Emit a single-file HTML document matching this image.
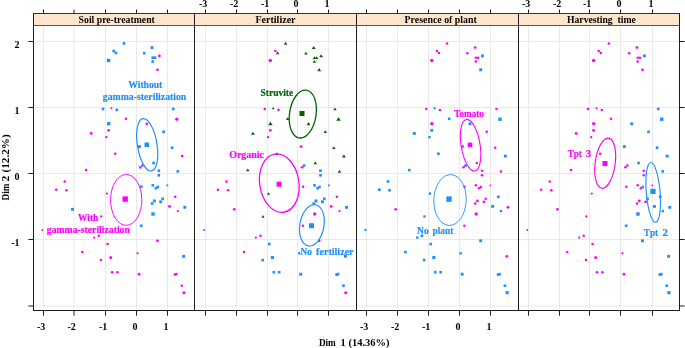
<!DOCTYPE html>
<html><head><meta charset="utf-8"><title>PCA</title><style>html,body{margin:0;padding:0;background:#fff}</style></head><body>
<svg width="685" height="348" viewBox="0 0 685 348" style="display:block;will-change:transform" font-family="'Liberation Serif','Times New Roman',serif" font-weight="bold" font-size="9.8">
<rect width="685" height="348" fill="#fff"/>
<g stroke="#e9e9e9" stroke-width="1" fill="none">
<line x1="43.5" y1="25.5" x2="43.5" y2="310.5"/>
<line x1="74.0" y1="25.5" x2="74.0" y2="310.5"/>
<line x1="105.5" y1="25.5" x2="105.5" y2="310.5"/>
<line x1="136.5" y1="25.5" x2="136.5" y2="310.5"/>
<line x1="167.5" y1="25.5" x2="167.5" y2="310.5"/>
<line x1="205.5" y1="25.5" x2="205.5" y2="310.5"/>
<line x1="236.5" y1="25.5" x2="236.5" y2="310.5"/>
<line x1="267.5" y1="25.5" x2="267.5" y2="310.5"/>
<line x1="297.5" y1="25.5" x2="297.5" y2="310.5"/>
<line x1="328.5" y1="25.5" x2="328.5" y2="310.5"/>
<line x1="366.5" y1="25.5" x2="366.5" y2="310.5"/>
<line x1="397.5" y1="25.5" x2="397.5" y2="310.5"/>
<line x1="428.5" y1="25.5" x2="428.5" y2="310.5"/>
<line x1="459.5" y1="25.5" x2="459.5" y2="310.5"/>
<line x1="490.5" y1="25.5" x2="490.5" y2="310.5"/>
<line x1="528.5" y1="25.5" x2="528.5" y2="310.5"/>
<line x1="559.5" y1="25.5" x2="559.5" y2="310.5"/>
<line x1="589.5" y1="25.5" x2="589.5" y2="310.5"/>
<line x1="620.5" y1="25.5" x2="620.5" y2="310.5"/>
<line x1="652.5" y1="25.5" x2="652.5" y2="310.5"/>
<line x1="33.5" y1="41.5" x2="679.5" y2="41.5"/>
<line x1="33.5" y1="107.5" x2="679.5" y2="107.5"/>
<line x1="33.5" y1="173.5" x2="679.5" y2="173.5"/>
<line x1="33.5" y1="239.5" x2="679.5" y2="239.5"/>
<line x1="33.5" y1="306.0" x2="679.5" y2="306.0"/>
</g>
<g>
<rect x="122.59" y="42.09" width="2.62" height="2.62" fill="#1E90FF"/>
<rect x="112.39" y="49.69" width="2.62" height="2.62" fill="#1E90FF"/>
<rect x="114.59" y="51.69" width="2.62" height="2.62" fill="#1E90FF"/>
<rect x="106.89" y="58.79" width="3.41" height="3.41" fill="#1E90FF"/>
<rect x="150.56" y="46.16" width="2.89" height="2.89" fill="#1E90FF"/>
<rect x="142.89" y="51.89" width="2.62" height="2.62" fill="#1E90FF"/>
<rect x="151.39" y="56.39" width="2.62" height="2.62" fill="#1E90FF"/>
<rect x="153.69" y="56.39" width="2.62" height="2.62" fill="#1E90FF"/>
<rect x="151.39" y="60.29" width="2.62" height="2.62" fill="#1E90FF"/>
<circle cx="159.40" cy="55.90" r="1.40" fill="#FF00FF"/>
<circle cx="157.50" cy="69.80" r="1.40" fill="#FF00FF"/>
<rect x="101.74" y="107.69" width="2.62" height="2.62" fill="#1E90FF"/>
<circle cx="111.50" cy="108.30" r="1.02" fill="#FF00FF"/>
<rect x="115.49" y="108.59" width="2.62" height="2.62" fill="#1E90FF"/>
<rect x="171.99" y="107.69" width="2.62" height="2.62" fill="#1E90FF"/>
<circle cx="126.00" cy="118.80" r="1.27" fill="#FF00FF"/>
<circle cx="176.80" cy="119.20" r="1.66" fill="#FF00FF"/>
<rect x="106.99" y="121.99" width="3.41" height="3.41" fill="#1E90FF"/>
<circle cx="146.80" cy="123.80" r="1.40" fill="#FF00FF"/>
<circle cx="108.60" cy="130.30" r="1.40" fill="#FF00FF"/>
<circle cx="91.20" cy="133.40" r="1.40" fill="#FF00FF"/>
<circle cx="106.30" cy="137.20" r="1.15" fill="#FF00FF"/>
<rect x="162.29" y="130.49" width="2.62" height="2.62" fill="#1E90FF"/>
<rect x="137.96" y="145.16" width="2.89" height="2.89" fill="#1E90FF"/>
<rect x="170.79" y="146.39" width="2.62" height="2.62" fill="#1E90FF"/>
<circle cx="115.20" cy="153.70" r="1.27" fill="#FF00FF"/>
<circle cx="182.20" cy="156.10" r="1.40" fill="#FF00FF"/>
<rect x="152.29" y="161.69" width="2.62" height="2.62" fill="#1E90FF"/>
<circle cx="142.40" cy="165.60" r="1.27" fill="#FF00FF"/>
<rect x="139.09" y="165.99" width="2.62" height="2.62" fill="#1E90FF"/>
<rect x="157.49" y="169.39" width="2.62" height="2.62" fill="#1E90FF"/>
<rect x="176.49" y="170.09" width="2.62" height="2.62" fill="#1E90FF"/>
<rect x="157.49" y="173.99" width="2.62" height="2.62" fill="#1E90FF"/>
<rect x="140.09" y="185.39" width="2.62" height="2.62" fill="#1E90FF"/>
<rect x="151.49" y="183.99" width="2.62" height="2.62" fill="#1E90FF"/>
<rect x="156.49" y="185.69" width="2.62" height="2.62" fill="#1E90FF"/>
<rect x="154.59" y="186.89" width="2.62" height="2.62" fill="#1E90FF"/>
<rect x="166.38" y="184.48" width="1.84" height="1.84" fill="#1E90FF"/>
<circle cx="106.80" cy="193.60" r="1.15" fill="#FF00FF"/>
<circle cx="175.20" cy="196.80" r="1.27" fill="#FF00FF"/>
<rect x="152.86" y="199.46" width="2.89" height="2.89" fill="#1E90FF"/>
<rect x="150.79" y="202.19" width="2.62" height="2.62" fill="#1E90FF"/>
<rect x="161.29" y="197.49" width="2.62" height="2.62" fill="#1E90FF"/>
<rect x="159.26" y="200.36" width="2.89" height="2.89" fill="#1E90FF"/>
<circle cx="169.50" cy="206.40" r="1.40" fill="#FF00FF"/>
<rect x="183.36" y="205.86" width="2.89" height="2.89" fill="#1E90FF"/>
<circle cx="177.80" cy="211.10" r="1.15" fill="#FF00FF"/>
<rect x="151.29" y="212.29" width="3.41" height="3.41" fill="#1E90FF"/>
<rect x="139.89" y="224.49" width="2.62" height="2.62" fill="#1E90FF"/>
<circle cx="157.50" cy="240.80" r="1.40" fill="#FF00FF"/>
<circle cx="107.60" cy="244.10" r="1.27" fill="#FF00FF"/>
<circle cx="101.30" cy="216.50" r="1.15" fill="#FF00FF"/>
<circle cx="98.80" cy="235.80" r="1.27" fill="#FF00FF"/>
<circle cx="94.20" cy="237.60" r="1.15" fill="#FF00FF"/>
<circle cx="86.10" cy="170.10" r="1.27" fill="#FF00FF"/>
<circle cx="64.80" cy="181.50" r="1.27" fill="#FF00FF"/>
<circle cx="56.20" cy="189.70" r="1.27" fill="#FF00FF"/>
<circle cx="66.40" cy="190.30" r="1.27" fill="#FF00FF"/>
<rect x="71.06" y="207.86" width="2.89" height="2.89" fill="#1E90FF"/>
<circle cx="42.30" cy="229.90" r="1.02" fill="#FF00FF"/>
<circle cx="82.30" cy="252.10" r="1.27" fill="#FF00FF"/>
<circle cx="110.70" cy="257.50" r="1.53" fill="#FF00FF"/>
<circle cx="101.00" cy="260.10" r="1.27" fill="#FF00FF"/>
<circle cx="112.10" cy="272.20" r="1.27" fill="#FF00FF"/>
<circle cx="117.50" cy="272.20" r="1.27" fill="#FF00FF"/>
<circle cx="137.50" cy="253.30" r="1.15" fill="#FF00FF"/>
<rect x="182.16" y="254.86" width="2.89" height="2.89" fill="#1E90FF"/>
<circle cx="139.00" cy="274.20" r="1.40" fill="#FF00FF"/>
<circle cx="174.90" cy="274.60" r="1.27" fill="#FF00FF"/>
<circle cx="176.40" cy="274.10" r="1.27" fill="#FF00FF"/>
<circle cx="181.80" cy="285.70" r="1.27" fill="#FF00FF"/>
<circle cx="184.00" cy="292.70" r="1.53" fill="#FF00FF"/>
</g>
<g>
<path d="M285.60 41.87L287.36 44.66L283.84 44.66Z" fill="#006400"/>
<circle cx="275.40" cy="51.00" r="1.27" fill="#FF00FF"/>
<path d="M277.60 51.47L279.36 54.26L275.84 54.26Z" fill="#006400"/>
<circle cx="270.30" cy="60.50" r="1.66" fill="#FF00FF"/>
<path d="M313.70 45.92L315.64 48.99L311.76 48.99Z" fill="#006400"/>
<path d="M305.90 51.67L307.66 54.46L304.14 54.46Z" fill="#006400"/>
<path d="M314.40 56.17L316.16 58.96L312.64 58.96Z" fill="#006400"/>
<path d="M316.70 56.17L318.46 58.96L314.94 58.96Z" fill="#006400"/>
<path d="M314.40 60.07L316.16 62.86L312.64 62.86Z" fill="#006400"/>
<path d="M321.10 54.22L323.04 57.29L319.16 57.29Z" fill="#006400"/>
<path d="M319.20 68.12L321.14 71.19L317.26 71.19Z" fill="#006400"/>
<circle cx="264.75" cy="109.00" r="1.27" fill="#FF00FF"/>
<path d="M273.20 107.08L274.61 109.31L271.79 109.31Z" fill="#006400"/>
<circle cx="278.50" cy="109.90" r="1.27" fill="#FF00FF"/>
<path d="M335.00 107.47L336.76 110.26L333.24 110.26Z" fill="#006400"/>
<path d="M287.70 117.27L289.46 120.06L285.94 120.06Z" fill="#006400"/>
<path d="M338.50 117.21L340.79 120.84L336.21 120.84Z" fill="#006400"/>
<path d="M270.40 121.71L272.69 125.34L268.11 125.34Z" fill="#006400"/>
<path d="M308.50 122.12L310.44 125.19L306.56 125.19Z" fill="#006400"/>
<circle cx="270.30" cy="130.30" r="1.40" fill="#FF00FF"/>
<path d="M252.90 131.72L254.84 134.79L250.96 134.79Z" fill="#006400"/>
<circle cx="268.00" cy="137.20" r="1.15" fill="#FF00FF"/>
<path d="M325.30 130.27L327.06 133.06L323.54 133.06Z" fill="#006400"/>
<circle cx="301.10" cy="146.60" r="1.40" fill="#FF00FF"/>
<path d="M333.80 146.17L335.56 148.96L332.04 148.96Z" fill="#006400"/>
<path d="M276.90 152.17L278.66 154.96L275.14 154.96Z" fill="#006400"/>
<path d="M343.90 154.42L345.84 157.49L341.96 157.49Z" fill="#006400"/>
<path d="M315.30 161.47L317.06 164.26L313.54 164.26Z" fill="#006400"/>
<rect x="302.79" y="164.29" width="2.62" height="2.62" fill="#1E90FF"/>
<circle cx="302.10" cy="167.30" r="1.27" fill="#FF00FF"/>
<rect x="319.19" y="169.39" width="2.62" height="2.62" fill="#1E90FF"/>
<path d="M339.50 169.87L341.26 172.66L337.74 172.66Z" fill="#006400"/>
<rect x="319.19" y="173.99" width="2.62" height="2.62" fill="#1E90FF"/>
<circle cx="303.10" cy="186.70" r="1.27" fill="#FF00FF"/>
<rect x="313.19" y="183.99" width="2.62" height="2.62" fill="#1E90FF"/>
<rect x="318.19" y="185.69" width="2.62" height="2.62" fill="#1E90FF"/>
<rect x="316.29" y="186.89" width="2.62" height="2.62" fill="#1E90FF"/>
<rect x="328.08" y="184.48" width="1.84" height="1.84" fill="#1E90FF"/>
<path d="M268.50 192.22L270.09 194.73L266.91 194.73Z" fill="#006400"/>
<circle cx="336.90" cy="196.80" r="1.27" fill="#FF00FF"/>
<rect x="314.56" y="199.46" width="2.89" height="2.89" fill="#1E90FF"/>
<rect x="312.49" y="202.19" width="2.62" height="2.62" fill="#1E90FF"/>
<rect x="322.99" y="197.49" width="2.62" height="2.62" fill="#1E90FF"/>
<rect x="320.96" y="200.36" width="2.89" height="2.89" fill="#1E90FF"/>
<circle cx="331.20" cy="206.40" r="1.40" fill="#FF00FF"/>
<rect x="345.06" y="205.86" width="2.89" height="2.89" fill="#1E90FF"/>
<circle cx="339.50" cy="211.10" r="1.15" fill="#FF00FF"/>
<circle cx="314.70" cy="214.00" r="1.66" fill="#FF00FF"/>
<circle cx="302.90" cy="225.80" r="1.27" fill="#FF00FF"/>
<circle cx="319.20" cy="240.80" r="1.40" fill="#FF00FF"/>
<rect x="267.99" y="242.79" width="2.62" height="2.62" fill="#1E90FF"/>
<path d="M263.00 215.12L264.59 217.63L261.41 217.63Z" fill="#006400"/>
<circle cx="260.50" cy="235.80" r="1.27" fill="#FF00FF"/>
<circle cx="255.90" cy="237.60" r="1.15" fill="#FF00FF"/>
<path d="M247.80 168.57L249.56 171.36L246.04 171.36Z" fill="#006400"/>
<circle cx="226.50" cy="181.50" r="1.27" fill="#FF00FF"/>
<circle cx="217.90" cy="189.70" r="1.27" fill="#FF00FF"/>
<circle cx="228.10" cy="190.30" r="1.27" fill="#FF00FF"/>
<circle cx="234.20" cy="209.30" r="1.40" fill="#FF00FF"/>
<circle cx="204.00" cy="229.90" r="1.02" fill="#FF00FF"/>
<circle cx="244.00" cy="252.10" r="1.27" fill="#FF00FF"/>
<rect x="270.82" y="255.93" width="3.15" height="3.15" fill="#1E90FF"/>
<rect x="261.39" y="258.79" width="2.62" height="2.62" fill="#1E90FF"/>
<rect x="272.49" y="270.89" width="2.62" height="2.62" fill="#1E90FF"/>
<rect x="277.89" y="270.89" width="2.62" height="2.62" fill="#1E90FF"/>
<rect x="298.02" y="252.12" width="2.36" height="2.36" fill="#1E90FF"/>
<rect x="343.86" y="254.86" width="2.89" height="2.89" fill="#1E90FF"/>
<rect x="299.26" y="272.76" width="2.89" height="2.89" fill="#1E90FF"/>
<rect x="335.29" y="273.29" width="2.62" height="2.62" fill="#1E90FF"/>
<rect x="336.79" y="272.79" width="2.62" height="2.62" fill="#1E90FF"/>
<rect x="342.19" y="284.39" width="2.62" height="2.62" fill="#1E90FF"/>
<circle cx="345.70" cy="292.70" r="1.53" fill="#FF00FF"/>
</g>
<g>
<circle cx="447.05" cy="43.40" r="1.27" fill="#FF00FF"/>
<circle cx="436.85" cy="51.00" r="1.27" fill="#FF00FF"/>
<circle cx="439.05" cy="53.00" r="1.27" fill="#FF00FF"/>
<circle cx="431.75" cy="60.50" r="1.66" fill="#FF00FF"/>
<circle cx="475.15" cy="47.60" r="1.40" fill="#FF00FF"/>
<circle cx="467.35" cy="53.20" r="1.27" fill="#FF00FF"/>
<circle cx="475.85" cy="57.70" r="1.27" fill="#FF00FF"/>
<circle cx="478.15" cy="57.70" r="1.27" fill="#FF00FF"/>
<circle cx="475.85" cy="61.60" r="1.27" fill="#FF00FF"/>
<rect x="481.11" y="54.46" width="2.89" height="2.89" fill="#1E90FF"/>
<rect x="479.21" y="68.36" width="2.89" height="2.89" fill="#1E90FF"/>
<circle cx="426.20" cy="109.00" r="1.27" fill="#FF00FF"/>
<rect x="433.60" y="107.25" width="2.10" height="2.10" fill="#1E90FF"/>
<circle cx="439.95" cy="109.90" r="1.27" fill="#FF00FF"/>
<circle cx="496.45" cy="109.00" r="1.27" fill="#FF00FF"/>
<rect x="447.84" y="117.49" width="2.62" height="2.62" fill="#1E90FF"/>
<rect x="498.24" y="117.49" width="3.41" height="3.41" fill="#1E90FF"/>
<circle cx="431.85" cy="123.70" r="1.66" fill="#FF00FF"/>
<rect x="468.51" y="122.36" width="2.89" height="2.89" fill="#1E90FF"/>
<rect x="430.31" y="128.86" width="2.89" height="2.89" fill="#1E90FF"/>
<rect x="412.91" y="131.96" width="2.89" height="2.89" fill="#1E90FF"/>
<rect x="428.27" y="136.02" width="2.36" height="2.36" fill="#1E90FF"/>
<circle cx="486.75" cy="131.80" r="1.27" fill="#FF00FF"/>
<circle cx="462.55" cy="146.60" r="1.40" fill="#FF00FF"/>
<circle cx="495.25" cy="147.70" r="1.27" fill="#FF00FF"/>
<rect x="437.04" y="152.39" width="2.62" height="2.62" fill="#1E90FF"/>
<rect x="503.91" y="154.66" width="2.89" height="2.89" fill="#1E90FF"/>
<circle cx="476.75" cy="163.00" r="1.27" fill="#FF00FF"/>
<rect x="464.24" y="164.29" width="2.62" height="2.62" fill="#1E90FF"/>
<circle cx="463.55" cy="167.30" r="1.27" fill="#FF00FF"/>
<circle cx="481.95" cy="170.70" r="1.27" fill="#FF00FF"/>
<circle cx="500.95" cy="171.40" r="1.27" fill="#FF00FF"/>
<circle cx="481.95" cy="175.30" r="1.27" fill="#FF00FF"/>
<circle cx="464.55" cy="186.70" r="1.27" fill="#FF00FF"/>
<circle cx="475.95" cy="185.30" r="1.27" fill="#FF00FF"/>
<circle cx="480.95" cy="187.00" r="1.27" fill="#FF00FF"/>
<circle cx="479.05" cy="188.20" r="1.27" fill="#FF00FF"/>
<circle cx="490.45" cy="185.40" r="0.89" fill="#FF00FF"/>
<rect x="428.77" y="192.42" width="2.36" height="2.36" fill="#1E90FF"/>
<rect x="497.04" y="195.49" width="2.62" height="2.62" fill="#1E90FF"/>
<circle cx="477.45" cy="200.90" r="1.40" fill="#FF00FF"/>
<circle cx="475.25" cy="203.50" r="1.27" fill="#FF00FF"/>
<circle cx="485.75" cy="198.80" r="1.27" fill="#FF00FF"/>
<circle cx="483.85" cy="201.80" r="1.40" fill="#FF00FF"/>
<rect x="491.21" y="204.96" width="2.89" height="2.89" fill="#1E90FF"/>
<circle cx="507.95" cy="207.30" r="1.40" fill="#FF00FF"/>
<rect x="499.77" y="209.92" width="2.36" height="2.36" fill="#1E90FF"/>
<circle cx="476.15" cy="214.00" r="1.66" fill="#FF00FF"/>
<circle cx="464.35" cy="225.80" r="1.27" fill="#FF00FF"/>
<rect x="479.21" y="239.36" width="2.89" height="2.89" fill="#1E90FF"/>
<rect x="429.44" y="242.79" width="2.62" height="2.62" fill="#1E90FF"/>
<rect x="423.27" y="215.32" width="2.36" height="2.36" fill="#1E90FF"/>
<rect x="420.64" y="234.49" width="2.62" height="2.62" fill="#1E90FF"/>
<rect x="416.17" y="236.42" width="2.36" height="2.36" fill="#1E90FF"/>
<rect x="407.94" y="168.79" width="2.62" height="2.62" fill="#1E90FF"/>
<rect x="386.64" y="180.19" width="2.62" height="2.62" fill="#1E90FF"/>
<rect x="378.04" y="188.39" width="2.62" height="2.62" fill="#1E90FF"/>
<rect x="388.24" y="188.99" width="2.62" height="2.62" fill="#1E90FF"/>
<circle cx="395.65" cy="209.30" r="1.40" fill="#FF00FF"/>
<rect x="364.40" y="228.85" width="2.10" height="2.10" fill="#1E90FF"/>
<rect x="404.14" y="250.79" width="2.62" height="2.62" fill="#1E90FF"/>
<rect x="432.27" y="255.93" width="3.15" height="3.15" fill="#1E90FF"/>
<rect x="422.84" y="258.79" width="2.62" height="2.62" fill="#1E90FF"/>
<rect x="433.94" y="270.89" width="2.62" height="2.62" fill="#1E90FF"/>
<rect x="439.34" y="270.89" width="2.62" height="2.62" fill="#1E90FF"/>
<rect x="459.47" y="252.12" width="2.36" height="2.36" fill="#1E90FF"/>
<circle cx="506.75" cy="256.30" r="1.40" fill="#FF00FF"/>
<rect x="460.71" y="272.76" width="2.89" height="2.89" fill="#1E90FF"/>
<rect x="496.74" y="273.29" width="2.62" height="2.62" fill="#1E90FF"/>
<rect x="498.24" y="272.79" width="2.62" height="2.62" fill="#1E90FF"/>
<rect x="503.64" y="284.39" width="2.62" height="2.62" fill="#1E90FF"/>
<rect x="505.57" y="291.12" width="3.15" height="3.15" fill="#1E90FF"/>
</g>
<g>
<circle cx="608.85" cy="43.40" r="1.27" fill="#FF00FF"/>
<circle cx="598.65" cy="51.00" r="1.27" fill="#FF00FF"/>
<circle cx="600.85" cy="53.00" r="1.27" fill="#FF00FF"/>
<circle cx="593.55" cy="60.50" r="1.66" fill="#FF00FF"/>
<circle cx="636.95" cy="47.60" r="1.40" fill="#FF00FF"/>
<circle cx="629.15" cy="53.20" r="1.27" fill="#FF00FF"/>
<circle cx="637.65" cy="57.70" r="1.27" fill="#FF00FF"/>
<circle cx="639.95" cy="57.70" r="1.27" fill="#FF00FF"/>
<circle cx="637.65" cy="61.60" r="1.27" fill="#FF00FF"/>
<rect x="642.91" y="54.46" width="2.89" height="2.89" fill="#1E90FF"/>
<circle cx="642.45" cy="69.80" r="1.40" fill="#FF00FF"/>
<circle cx="588.00" cy="109.00" r="1.27" fill="#FF00FF"/>
<circle cx="596.45" cy="108.30" r="1.02" fill="#FF00FF"/>
<circle cx="601.75" cy="109.90" r="1.27" fill="#FF00FF"/>
<rect x="656.94" y="107.69" width="2.62" height="2.62" fill="#1E90FF"/>
<circle cx="610.95" cy="118.80" r="1.27" fill="#FF00FF"/>
<rect x="660.04" y="117.49" width="3.41" height="3.41" fill="#1E90FF"/>
<circle cx="593.65" cy="123.70" r="1.66" fill="#FF00FF"/>
<rect x="630.31" y="122.36" width="2.89" height="2.89" fill="#1E90FF"/>
<circle cx="593.55" cy="130.30" r="1.40" fill="#FF00FF"/>
<circle cx="576.15" cy="133.40" r="1.40" fill="#FF00FF"/>
<circle cx="591.25" cy="137.20" r="1.15" fill="#FF00FF"/>
<rect x="647.24" y="130.49" width="2.62" height="2.62" fill="#1E90FF"/>
<rect x="622.91" y="145.16" width="2.89" height="2.89" fill="#1E90FF"/>
<rect x="655.74" y="146.39" width="2.62" height="2.62" fill="#1E90FF"/>
<circle cx="600.15" cy="153.70" r="1.27" fill="#FF00FF"/>
<rect x="665.71" y="154.66" width="2.89" height="2.89" fill="#1E90FF"/>
<rect x="637.24" y="161.69" width="2.62" height="2.62" fill="#1E90FF"/>
<circle cx="627.35" cy="165.60" r="1.27" fill="#FF00FF"/>
<circle cx="625.35" cy="167.30" r="1.27" fill="#FF00FF"/>
<circle cx="643.75" cy="170.70" r="1.27" fill="#FF00FF"/>
<rect x="661.44" y="170.09" width="2.62" height="2.62" fill="#1E90FF"/>
<circle cx="643.75" cy="175.30" r="1.27" fill="#FF00FF"/>
<circle cx="626.35" cy="186.70" r="1.27" fill="#FF00FF"/>
<circle cx="637.75" cy="185.30" r="1.27" fill="#FF00FF"/>
<rect x="641.44" y="185.69" width="2.62" height="2.62" fill="#1E90FF"/>
<circle cx="640.85" cy="188.20" r="1.27" fill="#FF00FF"/>
<circle cx="652.25" cy="185.40" r="0.89" fill="#FF00FF"/>
<circle cx="591.75" cy="193.60" r="1.15" fill="#FF00FF"/>
<rect x="658.84" y="195.49" width="2.62" height="2.62" fill="#1E90FF"/>
<circle cx="639.25" cy="200.90" r="1.40" fill="#FF00FF"/>
<circle cx="637.05" cy="203.50" r="1.27" fill="#FF00FF"/>
<rect x="646.24" y="197.49" width="2.62" height="2.62" fill="#1E90FF"/>
<circle cx="645.65" cy="201.80" r="1.40" fill="#FF00FF"/>
<rect x="653.01" y="204.96" width="2.89" height="2.89" fill="#1E90FF"/>
<rect x="668.31" y="205.86" width="2.89" height="2.89" fill="#1E90FF"/>
<rect x="661.57" y="209.92" width="2.36" height="2.36" fill="#1E90FF"/>
<rect x="636.24" y="212.29" width="3.41" height="3.41" fill="#1E90FF"/>
<rect x="624.84" y="224.49" width="2.62" height="2.62" fill="#1E90FF"/>
<rect x="641.01" y="239.36" width="2.89" height="2.89" fill="#1E90FF"/>
<circle cx="592.55" cy="244.10" r="1.27" fill="#FF00FF"/>
<circle cx="586.25" cy="216.50" r="1.15" fill="#FF00FF"/>
<circle cx="583.75" cy="235.80" r="1.27" fill="#FF00FF"/>
<circle cx="579.15" cy="237.60" r="1.15" fill="#FF00FF"/>
<circle cx="571.05" cy="170.10" r="1.27" fill="#FF00FF"/>
<circle cx="549.75" cy="181.50" r="1.27" fill="#FF00FF"/>
<circle cx="541.15" cy="189.70" r="1.27" fill="#FF00FF"/>
<circle cx="551.35" cy="190.30" r="1.27" fill="#FF00FF"/>
<circle cx="557.45" cy="209.30" r="1.40" fill="#FF00FF"/>
<circle cx="527.25" cy="229.90" r="1.02" fill="#FF00FF"/>
<circle cx="567.25" cy="252.10" r="1.27" fill="#FF00FF"/>
<circle cx="595.65" cy="257.50" r="1.53" fill="#FF00FF"/>
<circle cx="585.95" cy="260.10" r="1.27" fill="#FF00FF"/>
<circle cx="597.05" cy="272.20" r="1.27" fill="#FF00FF"/>
<circle cx="602.45" cy="272.20" r="1.27" fill="#FF00FF"/>
<circle cx="622.45" cy="253.30" r="1.15" fill="#FF00FF"/>
<rect x="667.11" y="254.86" width="2.89" height="2.89" fill="#1E90FF"/>
<circle cx="623.95" cy="274.20" r="1.40" fill="#FF00FF"/>
<rect x="658.54" y="273.29" width="2.62" height="2.62" fill="#1E90FF"/>
<rect x="660.04" y="272.79" width="2.62" height="2.62" fill="#1E90FF"/>
<rect x="665.44" y="284.39" width="2.62" height="2.62" fill="#1E90FF"/>
<rect x="667.38" y="291.12" width="3.15" height="3.15" fill="#1E90FF"/>
</g>
<ellipse cx="147.2" cy="144.8" rx="9.8" ry="26.5" transform="rotate(-9.3 147.2 144.8)" fill="none" stroke="#1E90FF" stroke-width="1.2"/>
<ellipse cx="126.2" cy="199.9" rx="15.6" ry="25.4" transform="rotate(0 126.2 199.9)" fill="none" stroke="#FF00FF" stroke-width="0.95"/>
<ellipse cx="302.8" cy="114.05" rx="13.27" ry="24.14" transform="rotate(8.6 302.8 114.05)" fill="none" stroke="#006400" stroke-width="1.3"/>
<ellipse cx="279.3" cy="183.2" rx="19.6" ry="29.4" transform="rotate(-8.8 279.3 183.2)" fill="none" stroke="#FF00FF" stroke-width="1.3"/>
<ellipse cx="311.9" cy="225.3" rx="12.05" ry="20.9" transform="rotate(10 311.9 225.3)" fill="none" stroke="#1E90FF" stroke-width="1.2"/>
<ellipse cx="470.6" cy="145.2" rx="9.45" ry="26.1" transform="rotate(-9.3 470.6 145.2)" fill="none" stroke="#FF00FF" stroke-width="1.1"/>
<ellipse cx="450.0" cy="200.0" rx="16.2" ry="25.4" transform="rotate(2 450.0 200.0)" fill="none" stroke="#1E90FF" stroke-width="0.9"/>
<ellipse cx="605.2" cy="163.2" rx="10.0" ry="25.3" transform="rotate(7.7 605.2 163.2)" fill="none" stroke="#FF00FF" stroke-width="1.15"/>
<ellipse cx="653.2" cy="192.4" rx="6.9" ry="30.0" transform="rotate(-4.7 653.2 192.4)" fill="none" stroke="#1E90FF" stroke-width="1.15"/>
<rect x="144.50" y="142.50" width="4.6" height="4.6" fill="#1E90FF"/>
<rect x="122.50" y="196.40" width="5.4" height="5.4" fill="#FF00FF"/>
<rect x="299.50" y="111.00" width="5.0" height="5.0" fill="#006400"/>
<rect x="276.60" y="181.70" width="5.0" height="5.0" fill="#FF00FF"/>
<rect x="309.00" y="223.20" width="5.0" height="5.0" fill="#1E90FF"/>
<rect x="467.70" y="142.60" width="4.6" height="4.6" fill="#FF00FF"/>
<rect x="446.30" y="196.40" width="5.4" height="5.4" fill="#1E90FF"/>
<rect x="602.50" y="161.00" width="5.0" height="5.0" fill="#FF00FF"/>
<rect x="650.40" y="188.80" width="5.2" height="5.2" fill="#1E90FF"/>
<text x="128.3" y="88.0" font-size="10.6" textLength="34.0" lengthAdjust="spacingAndGlyphs" fill="#1E90FF" stroke="#1E90FF" stroke-width="0.2">Without</text>
<text x="102.8" y="99.9" font-size="10.6" textLength="83.5" lengthAdjust="spacingAndGlyphs" fill="#1E90FF" stroke="#1E90FF" stroke-width="0.2">gamma-sterilization</text>
<text x="78.1" y="220.9" font-size="10.6" textLength="20.1" lengthAdjust="spacingAndGlyphs" fill="#FF00FF" stroke="#FF00FF" stroke-width="0.2">With</text>
<text x="46.8" y="233.3" font-size="10.6" textLength="83.1" lengthAdjust="spacingAndGlyphs" fill="#FF00FF" stroke="#FF00FF" stroke-width="0.2">gamma-sterilization</text>
<text x="260.5" y="96.2" font-size="10.6" textLength="32.7" lengthAdjust="spacingAndGlyphs" fill="#006400" stroke="#006400" stroke-width="0.2">Struvite</text>
<text x="229.2" y="158.0" font-size="10.6" textLength="34.8" lengthAdjust="spacingAndGlyphs" fill="#FF00FF" stroke="#FF00FF" stroke-width="0.2">Organic</text>
<text x="300.4" y="254.9" font-size="10.6" textLength="11.5" lengthAdjust="spacingAndGlyphs" fill="#1E90FF" stroke="#1E90FF" stroke-width="0.2">No</text>
<text x="316.1" y="254.9" font-size="10.6" textLength="37.5" lengthAdjust="spacingAndGlyphs" fill="#1E90FF" stroke="#1E90FF" stroke-width="0.2">fertilizer</text>
<text x="454.2" y="116.8" font-size="10.6" textLength="29.7" lengthAdjust="spacingAndGlyphs" fill="#FF00FF" stroke="#FF00FF" stroke-width="0.2">Tomato</text>
<text x="417.1" y="234.0" font-size="10.6" textLength="11.7" lengthAdjust="spacingAndGlyphs" fill="#1E90FF" stroke="#1E90FF" stroke-width="0.2">No</text>
<text x="432.6" y="234.0" font-size="10.6" textLength="20.7" lengthAdjust="spacingAndGlyphs" fill="#1E90FF" stroke="#1E90FF" stroke-width="0.2">plant</text>
<text x="567.7" y="156.9" font-size="10.6" textLength="14.2" lengthAdjust="spacingAndGlyphs" fill="#FF00FF" stroke="#FF00FF" stroke-width="0.2">Tpt</text>
<text x="585.8" y="156.9" font-size="10.6" textLength="5.4" lengthAdjust="spacingAndGlyphs" fill="#FF00FF" stroke="#FF00FF" stroke-width="0.2">3</text>
<text x="643.8" y="235.7" font-size="10.6" textLength="14.2" lengthAdjust="spacingAndGlyphs" fill="#1E90FF" stroke="#1E90FF" stroke-width="0.2">Tpt</text>
<text x="662.4" y="235.7" font-size="10.6" textLength="5.4" lengthAdjust="spacingAndGlyphs" fill="#1E90FF" stroke="#1E90FF" stroke-width="0.2">2</text>
<rect x="33.5" y="13.5" width="646.0" height="12.0" fill="#FFE5CC"/>
<text x="78.6" y="23.1" font-size="10.5" textLength="76.2" lengthAdjust="spacingAndGlyphs" fill="#000">Soil pre-treatment</text>
<text x="255.4" y="23.1" font-size="10.5" textLength="40.2" lengthAdjust="spacingAndGlyphs" fill="#000">Fertilizer</text>
<text x="404.6" y="23.1" font-size="10.5" textLength="72.2" lengthAdjust="spacingAndGlyphs" fill="#000">Presence of plant</text>
<text x="567.0" y="23.1" font-size="10.5" textLength="45.6" lengthAdjust="spacingAndGlyphs" fill="#000">Harvesting</text>
<text x="617.5" y="23.1" font-size="10.5" textLength="18.4" lengthAdjust="spacingAndGlyphs" fill="#000">time</text>
<line x1="33.5" y1="25.5" x2="679.5" y2="25.5" stroke="#555" stroke-width="1"/>
<line x1="33.0" y1="13.5" x2="680.0" y2="13.5" stroke="#333" stroke-width="1"/>
<g stroke="#1c1c1c" stroke-width="1" fill="none">
<line x1="33.5" y1="13.5" x2="33.5" y2="311.0"/>
<line x1="194.5" y1="13.5" x2="194.5" y2="311.0"/>
<line x1="356.5" y1="13.5" x2="356.5" y2="311.0"/>
<line x1="518.5" y1="13.5" x2="518.5" y2="311.0"/>
<line x1="679.5" y1="13.5" x2="679.5" y2="311.0"/>
<line x1="33.0" y1="310.5" x2="680.0" y2="310.5"/>
<line x1="43.5" y1="13.5" x2="43.5" y2="9.5"/>
<line x1="43.5" y1="310.5" x2="43.5" y2="315.7"/>
<line x1="74.0" y1="13.5" x2="74.0" y2="9.5"/>
<line x1="74.0" y1="310.5" x2="74.0" y2="315.7"/>
<line x1="105.5" y1="13.5" x2="105.5" y2="9.5"/>
<line x1="105.5" y1="310.5" x2="105.5" y2="315.7"/>
<line x1="136.5" y1="13.5" x2="136.5" y2="9.5"/>
<line x1="136.5" y1="310.5" x2="136.5" y2="315.7"/>
<line x1="167.5" y1="13.5" x2="167.5" y2="9.5"/>
<line x1="167.5" y1="310.5" x2="167.5" y2="315.7"/>
<line x1="205.5" y1="13.5" x2="205.5" y2="9.5"/>
<line x1="205.5" y1="310.5" x2="205.5" y2="315.7"/>
<line x1="236.5" y1="13.5" x2="236.5" y2="9.5"/>
<line x1="236.5" y1="310.5" x2="236.5" y2="315.7"/>
<line x1="267.5" y1="13.5" x2="267.5" y2="9.5"/>
<line x1="267.5" y1="310.5" x2="267.5" y2="315.7"/>
<line x1="297.5" y1="13.5" x2="297.5" y2="9.5"/>
<line x1="297.5" y1="310.5" x2="297.5" y2="315.7"/>
<line x1="328.5" y1="13.5" x2="328.5" y2="9.5"/>
<line x1="328.5" y1="310.5" x2="328.5" y2="315.7"/>
<line x1="366.5" y1="13.5" x2="366.5" y2="9.5"/>
<line x1="366.5" y1="310.5" x2="366.5" y2="315.7"/>
<line x1="397.5" y1="13.5" x2="397.5" y2="9.5"/>
<line x1="397.5" y1="310.5" x2="397.5" y2="315.7"/>
<line x1="428.5" y1="13.5" x2="428.5" y2="9.5"/>
<line x1="428.5" y1="310.5" x2="428.5" y2="315.7"/>
<line x1="459.5" y1="13.5" x2="459.5" y2="9.5"/>
<line x1="459.5" y1="310.5" x2="459.5" y2="315.7"/>
<line x1="490.5" y1="13.5" x2="490.5" y2="9.5"/>
<line x1="490.5" y1="310.5" x2="490.5" y2="315.7"/>
<line x1="528.5" y1="13.5" x2="528.5" y2="9.5"/>
<line x1="528.5" y1="310.5" x2="528.5" y2="315.7"/>
<line x1="559.5" y1="13.5" x2="559.5" y2="9.5"/>
<line x1="559.5" y1="310.5" x2="559.5" y2="315.7"/>
<line x1="589.5" y1="13.5" x2="589.5" y2="9.5"/>
<line x1="589.5" y1="310.5" x2="589.5" y2="315.7"/>
<line x1="620.5" y1="13.5" x2="620.5" y2="9.5"/>
<line x1="620.5" y1="310.5" x2="620.5" y2="315.7"/>
<line x1="652.5" y1="13.5" x2="652.5" y2="9.5"/>
<line x1="652.5" y1="310.5" x2="652.5" y2="315.7"/>
<line x1="28.4" y1="41.5" x2="33.5" y2="41.5"/>
<line x1="679.5" y1="41.5" x2="684.6" y2="41.5"/>
<line x1="28.4" y1="107.5" x2="33.5" y2="107.5"/>
<line x1="679.5" y1="107.5" x2="684.6" y2="107.5"/>
<line x1="28.4" y1="173.5" x2="33.5" y2="173.5"/>
<line x1="679.5" y1="173.5" x2="684.6" y2="173.5"/>
<line x1="28.4" y1="239.5" x2="33.5" y2="239.5"/>
<line x1="679.5" y1="239.5" x2="684.6" y2="239.5"/>
<line x1="28.4" y1="306.0" x2="33.5" y2="306.0"/>
<line x1="679.5" y1="306.0" x2="684.6" y2="306.0"/>
</g>
<g fill="#000" font-size="10">
<text x="203.1" y="6.5" text-anchor="middle">-3</text>
<text x="234.1" y="6.5" text-anchor="middle">-2</text>
<text x="265.1" y="6.5" text-anchor="middle">-1</text>
<text x="296.1" y="6.5" text-anchor="middle">0</text>
<text x="327.1" y="6.5" text-anchor="middle">1</text>
<text x="526.1" y="6.5" text-anchor="middle">-3</text>
<text x="557.1" y="6.5" text-anchor="middle">-2</text>
<text x="587.1" y="6.5" text-anchor="middle">-1</text>
<text x="619.1" y="6.5" text-anchor="middle">0</text>
<text x="651.1" y="6.5" text-anchor="middle">1</text>
<text x="41.1" y="330.0" text-anchor="middle">-3</text>
<text x="71.6" y="330.0" text-anchor="middle">-2</text>
<text x="103.1" y="330.0" text-anchor="middle">-1</text>
<text x="135.1" y="330.0" text-anchor="middle">0</text>
<text x="166.1" y="330.0" text-anchor="middle">1</text>
<text x="364.1" y="330.0" text-anchor="middle">-3</text>
<text x="395.1" y="330.0" text-anchor="middle">-2</text>
<text x="426.1" y="330.0" text-anchor="middle">-1</text>
<text x="458.1" y="330.0" text-anchor="middle">0</text>
<text x="489.1" y="330.0" text-anchor="middle">1</text>
<text x="19.5" y="47.9" text-anchor="end">2</text>
<text x="19.5" y="113.9" text-anchor="end">1</text>
<text x="19.5" y="179.9" text-anchor="end">0</text>
<text x="19.5" y="245.9" text-anchor="end">-1</text>
</g>
<text x="318.9" y="345.6" textLength="16.9" lengthAdjust="spacingAndGlyphs" fill="#000" font-size="10.5">Dim</text>
<text x="340.6" y="345.6" textLength="48.8" lengthAdjust="spacingAndGlyphs" fill="#000" font-size="10.5">1 (14.36%)</text>
<text transform="translate(8.9 200.4) rotate(-90)" textLength="16.9" lengthAdjust="spacingAndGlyphs" fill="#000" font-size="10.5">Dim</text>
<text transform="translate(8.9 181.5) rotate(-90)" textLength="5.8" lengthAdjust="spacingAndGlyphs" fill="#000" font-size="10.5">2</text>
<text transform="translate(8.9 172.4) rotate(-90)" textLength="38.0" lengthAdjust="spacingAndGlyphs" fill="#000" font-size="10.5">(12.2%)</text>
</svg>
</body></html>
